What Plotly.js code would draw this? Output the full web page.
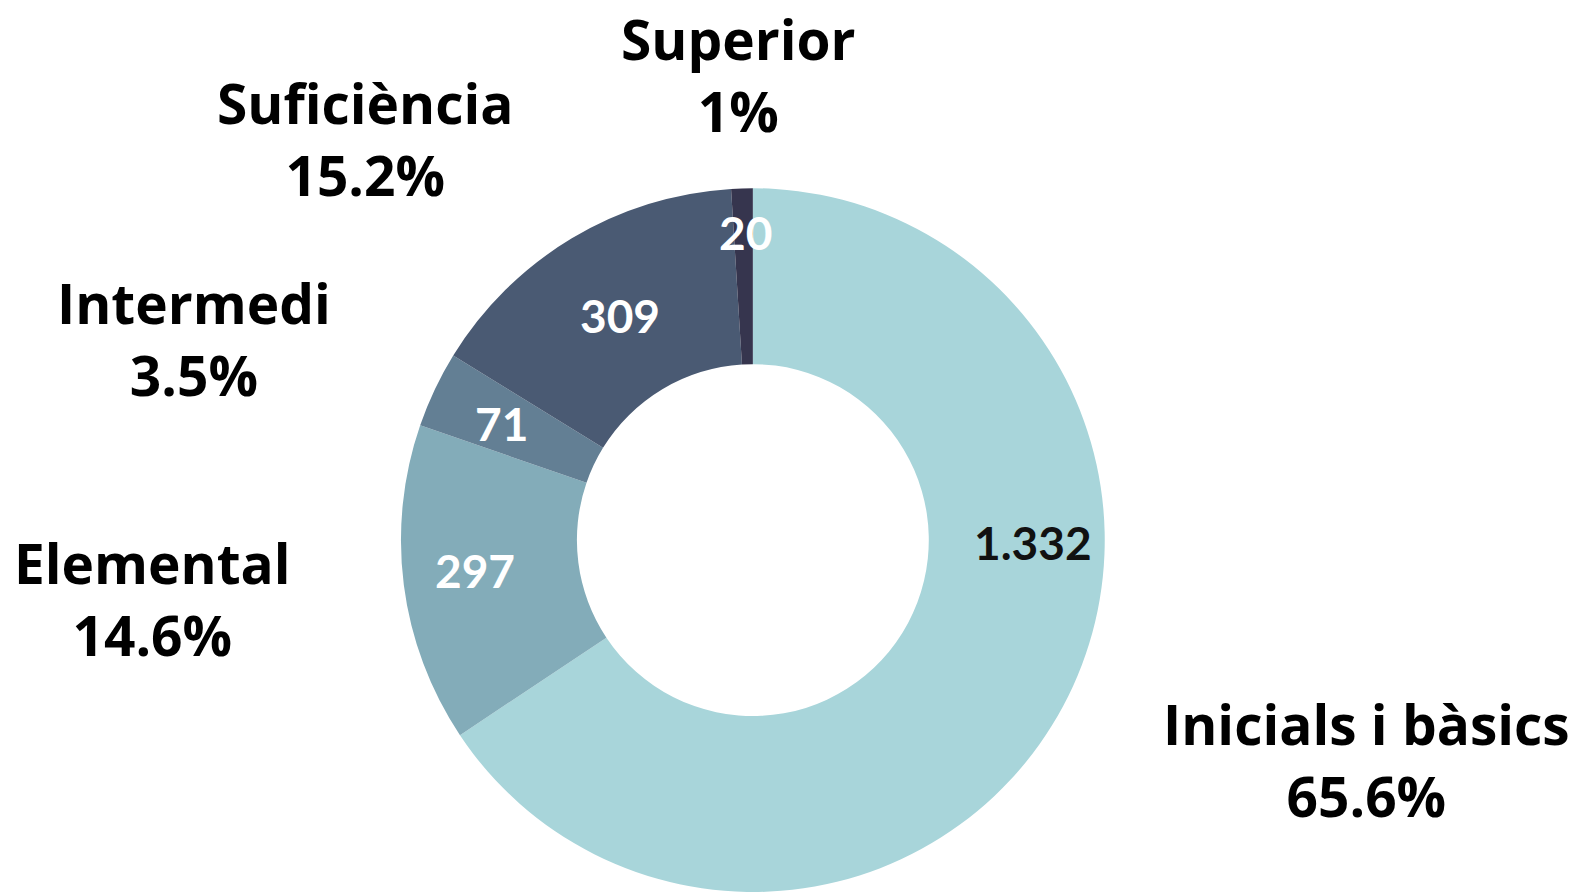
<!DOCTYPE html>
<html>
<head>
<meta charset="utf-8">
<script src="https://cdn.plot.ly/plotly-3.0.1.min.js"></script>
<style>
  html, body { margin: 0; padding: 0; background: #ffffff; }
  #chart { width: 1575px; height: 892px; }
</style>
</head>
<body>
<div id="chart"></div>
<script>
// Data
const categories = ["Inicials i bàsics", "Elemental", "Intermedi", "Suficiència", "Superior"];
const values = [1332, 297, 71, 309, 20];
const valueLabels = ["1.332", "297", "71", "309", "20"];
const colors = ["#A8D5DA", "#83ACB9", "#637F94", "#4A5A73", "#36354E"];
const valueTextColors = ["#111111", "#ffffff", "#ffffff", "#ffffff", "#ffffff"];

const W = 1575, H = 892;
const total = values.reduce((a, b) => a + b, 0);
const pctLabels = values.map(v => {
  let p = (v / total * 100).toFixed(1);
  if (p.endsWith('.0')) p = p.slice(0, -2);
  return p + '%';
});

// Label placements (pixels) for outer category labels and inner value labels
const outerPos = [[1366, 759], [152, 598], [194, 339], [365, 139], [738, 74]];
const innerPos = [[1033, 542], [475, 570], [501, 423], [620, 315], [745, 233]];

const annotations = [];
categories.forEach((c, i) => {
  annotations.push({
    xref: 'paper', yref: 'paper',
    x: outerPos[i][0] / W, y: 1 - outerPos[i][1] / H,
    xanchor: 'center', yanchor: 'middle',
    text: '<b>' + c + '</b><br><b>' + pctLabels[i] + '</b>',
    showarrow: false, align: 'center',
    font: { family: 'Open Sans, sans-serif', size: 55, color: '#000000' }
  });
  annotations.push({
    xref: 'paper', yref: 'paper',
    x: innerPos[i][0] / W, y: 1 - innerPos[i][1] / H,
    xanchor: 'center', yanchor: 'middle',
    text: '<b>' + valueLabels[i] + '</b>',
    showarrow: false,
    font: { family: 'Lato, sans-serif', size: 46, color: valueTextColors[i] }
  });
});

const trace = {
  type: 'pie',
  labels: categories,
  values: values,
  sort: false,
  direction: 'clockwise',
  rotation: 0,
  hole: 0.5,
  textinfo: 'none',
  hoverinfo: 'label+value+percent',
  marker: { colors: colors, line: { width: 0 } },
  domain: { x: [0.254, 0.702], y: [0, 0.789] },
  showlegend: false
};

const layout = {
  width: W, height: H,
  margin: { l: 0, r: 0, t: 0, b: 0 },
  paper_bgcolor: '#ffffff',
  plot_bgcolor: '#ffffff',
  showlegend: false,
  annotations: annotations
};

Plotly.newPlot('chart', [trace], layout, { displayModeBar: false, staticPlot: true });
</script>
</body>
</html>
